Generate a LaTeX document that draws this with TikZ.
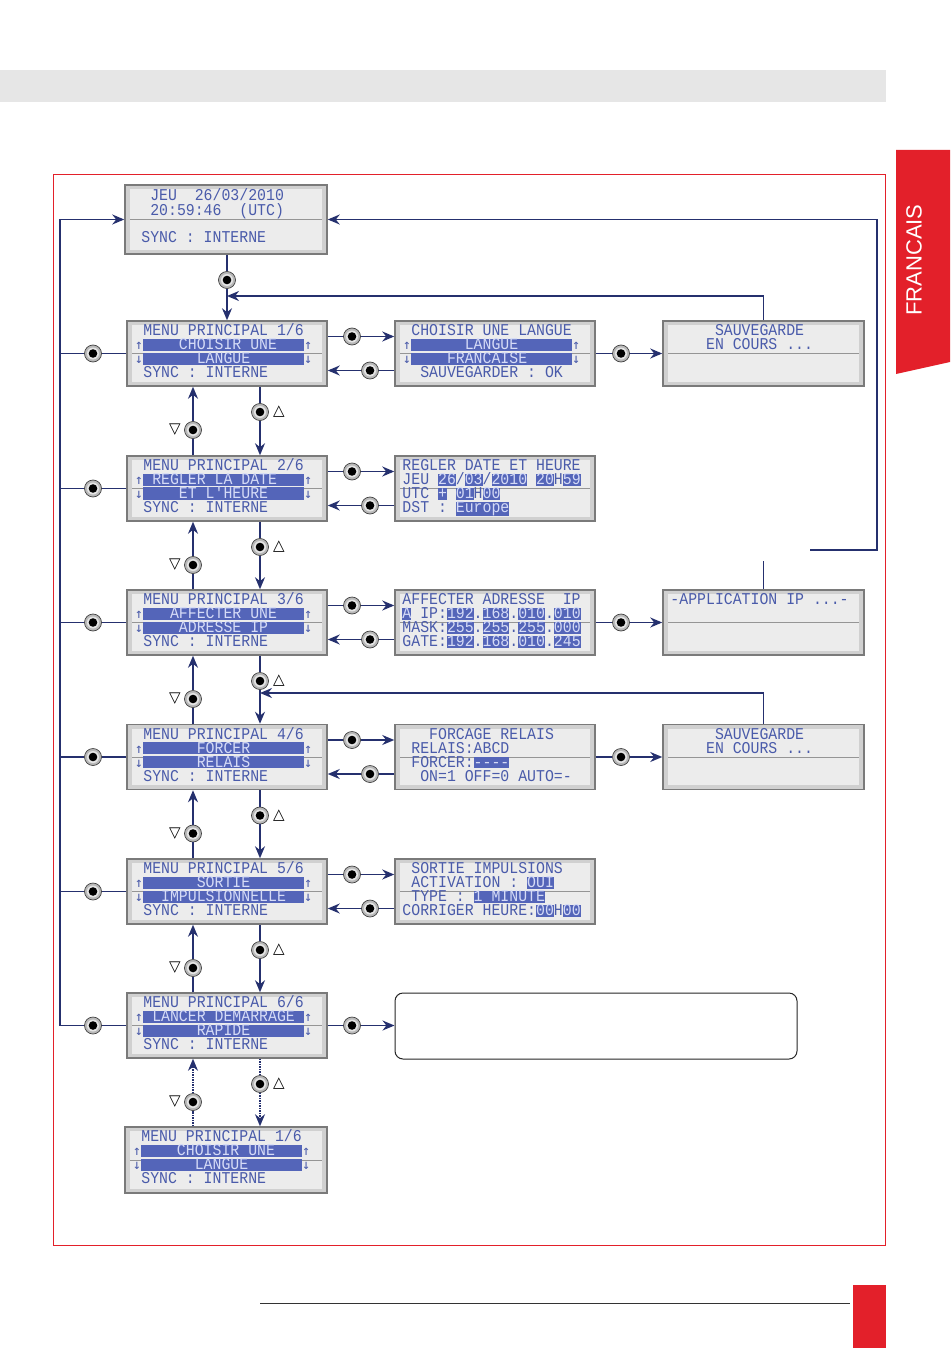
\documentclass[tikz,border=0pt]{standalone}
\usepackage{fontspec}
\usetikzlibrary{arrows.meta,calc}
\newfontfamily\lcdfont[FakeStretch=0.9]{Liberation Mono}
\newfontfamily\arrfont{DejaVu Sans Mono}
\newfontfamily\symfont{DejaVu Sans}
\newfontfamily\tabfont{Liberation Sans}
\definecolor{navy}{HTML}{25306E}
\definecolor{lcdblue}{HTML}{4A5BAA}
\definecolor{lcdbar}{HTML}{5465B9}
\definecolor{lcdlt}{HTML}{D5DBF7}
\definecolor{lcdframe}{HTML}{D0D0D0}
\definecolor{lcdedge}{HTML}{7A7A7A}
\definecolor{lcdpanel}{HTML}{ECECEC}
\definecolor{pagered}{HTML}{E3202A}
\definecolor{bargray}{HTML}{E6E6E6}
\newcommand\hb[1]{{\setlength{\fboxsep}{0pt}\colorbox{lcdbar}{\rule[-1pt]{0pt}{11.5pt}\color{lcdlt}#1}}}
\newcommand\ua{\makebox[8.9pt]{\arrfont\fontsize{13.5}{13.5}\selectfont ↑}}
\newcommand\da{\makebox[8.9pt]{\arrfont\fontsize{13.5}{13.5}\selectfont ↓}}
\newcommand\lcdbox[5]{%
  \node[lcd, minimum width=#4pt, minimum height=#5pt] (#1) at (#2,#3) {};
  \fill[lcdpanel] ([shift={(6,5)}]#1.north west) rectangle ([shift={(-6,-5)}]#1.south east);
  \draw[lcdedge!80, line width=1pt] ([shift={(6,0)}]#1.west) -- ([shift={(-6,0)}]#1.east);
}
\newcommand\lcdrow[4]{\node[lcdtxt] (#1-#2) at ([shift={(8,#3)}]#1.north west) {#4};}
\newcommand\lcdrows[5]{\lcdrow{#1}{a}{15.5}{#2}\lcdrow{#1}{b}{29.5}{#3}\lcdrow{#1}{c}{43.5}{#4}\lcdrow{#1}{d}{57.5}{#5}}
\tikzset{
  lcd/.style={rectangle, draw=lcdedge, line width=1.5pt, fill=lcdframe, inner sep=0},
  lcdtxt/.style={anchor=base west, inner sep=0, text height=10.5pt, text depth=1pt, text=lcdblue, font={\lcdfont\fontsize{16.5}{16.5}\selectfont}},
  conn/.style={draw=navy, line width=1.5pt},
  arr/.style={conn, -{Stealth[length=12pt,width=10pt]}},
  btn/.style={circle, minimum size=17pt, inner sep=0, fill=gray!55, draw=black!75, line width=0.7pt,
    path picture={\fill[white!80!gray] (path picture bounding box.center) circle (6pt);
                  \fill[black] (path picture bounding box.center) circle (4.3pt);}},
  tri/.style={inner sep=0, font={\symfont\fontsize{15}{15}\selectfont}},
}
\begin{document}
\begin{tikzpicture}[x=1pt,y=-1pt]
\useasboundingbox (0,0) rectangle (950,1348);
% page decoration
\fill[bargray] (0,70) rectangle (886,102);
\draw[pagered, line width=1pt] (53,175) rectangle (885,1245);
\fill[pagered] (896,150) -- (950,150) -- (950,362) -- (896,374) -- cycle;
\node[rotate=90, text=white, inner sep=0, font={\tabfont\fontsize{22}{22}\selectfont}] (tab) at (914,260) {FRANCAIS};
\draw[black!80, line width=0.7pt] (260,1303) -- (850,1303);
\fill[pagered] (853,1285) rectangle (886,1348);

% screens
\lcdbox{main}{226}{219.5}{202}{69}
\lcdrow{main}{a}{16.5}{~~JEU~~26/03/2010}
\lcdrow{main}{b}{31}{~~20:59:46~~(UTC)}
\lcdrow{main}{d}{58.5}{~SYNC~:~INTERNE}

\lcdbox{m1}{227}{353.5}{200}{65}
\lcdrows{m1}{~MENU~PRINCIPAL~1/6}{\ua\hb{~~~~CHOISIR~UNE~~~}\ua}{\da\hb{~~~~~~LANGUE~~~~~~}\da}{~SYNC~:~INTERNE}
\lcdbox{m2}{227}{488.5}{200}{65}
\lcdrows{m2}{~MENU~PRINCIPAL~2/6}{\ua\hb{~REGLER~LA~DATE~~~}\ua}{\da\hb{~~~~ET~L'HEURE~~~~}\da}{~SYNC~:~INTERNE}
\lcdbox{m3}{227}{622.5}{200}{65}
\lcdrows{m3}{~MENU~PRINCIPAL~3/6}{\ua\hb{~~~AFFECTER~UNE~~~}\ua}{\da\hb{~~~~ADRESSE~IP~~~~}\da}{~SYNC~:~INTERNE}
\lcdbox{m4}{227}{757}{200}{65}
\lcdrows{m4}{~MENU~PRINCIPAL~4/6}{\ua\hb{~~~~~~FORCER~~~~~~}\ua}{\da\hb{~~~~~~RELAIS~~~~~~}\da}{~SYNC~:~INTERNE}
\lcdbox{m5}{227}{891.5}{200}{65}
\lcdrows{m5}{~MENU~PRINCIPAL~5/6}{\ua\hb{~~~~~~SORTIE~~~~~~}\ua}{\da\hb{~~IMPULSIONNELLE~~}\da}{~SYNC~:~INTERNE}
\lcdbox{m6}{227}{1025.5}{200}{65}
\lcdrows{m6}{~MENU~PRINCIPAL~6/6}{\ua\hb{~LANCER~DEMARRAGE~}\ua}{\da\hb{~~~~~~RAPIDE~~~~~~}\da}{~SYNC~:~INTERNE}
\lcdbox{m7}{226}{1160}{202}{66}
\lcdrows{m7}{~MENU~PRINCIPAL~1/6}{\ua\hb{~~~~CHOISIR~UNE~~~}\ua}{\da\hb{~~~~~~LANGUE~~~~~~}\da}{~SYNC~:~INTERNE}

\lcdbox{c1}{495}{353.5}{200}{65}
\lcdrows{c1}{~CHOISIR~UNE~LANGUE}{\ua\hb{~~~~~~LANGUE~~~~~~}\ua}{\da\hb{~~~~FRANCAISE~~~~~}\da}{~~SAUVEGARDER~:~OK}
\lcdbox{c2}{495}{488.5}{200}{65}
\lcdrows{c2}{REGLER~DATE~ET~HEURE}{JEU~\hb{26}/\hb{03}/\hb{2010}~\hb{20}H\hb{59}}{UTC~\hb{+}~\hb{01}H\hb{00}}{DST~:~\hb{Europe}}
\lcdbox{c3}{495}{622.5}{200}{65}
\lcdrows{c3}{AFFECTER~ADRESSE~~IP}{\hb{A}~IP:\hb{192}.\hb{168}.\hb{010}.\hb{010}}{MASK:\hb{255}.\hb{255}.\hb{255}.\hb{000}}{GATE:\hb{192}.\hb{168}.\hb{010}.\hb{245}}
\lcdbox{c4}{495}{757}{200}{65}
\lcdrows{c4}{~~~FORCAGE~RELAIS}{~RELAIS:ABCD}{~FORCER:\hb{-\kern0pt-\kern0pt-\kern0pt-}}{~~ON=1~OFF=0~AUTO=-}
\lcdbox{c5}{495}{891.5}{200}{65}
\lcdrows{c5}{~SORTIE~IMPULSIONS}{~ACTIVATION~:~\hb{OUI}}{~TYPE~:~\hb{1~MINUTE}}{CORRIGER~HEURE:\hb{00}H\hb{00}}
\node[draw=black!85, line width=1pt, rounded corners=8pt, minimum width=402pt, minimum height=66pt, fill=white] (c6) at (596,1026) {};

\lcdbox{s1}{763.5}{353.5}{201}{65}
\lcdrow{s1}{a}{15.5}{~~~~~SAUVEGARDE}
\lcdrow{s1}{b}{29.5}{~~~~EN~COURS~...}
\lcdbox{ip}{763.5}{622.5}{201}{65}
\lcdrow{ip}{a}{15.5}{-APPLICATION~IP~...-}
\lcdbox{s2}{763.5}{757}{201}{65}
\lcdrow{s2}{a}{15.5}{~~~~~SAUVEGARDE}
\lcdrow{s2}{b}{29.5}{~~~~EN~COURS~...}

% main -> menu 1
\node[btn] (bm) at (227,280) {};
\draw[arr] (main.south -| bm) -- (bm) -- (m1.north);
\coordinate (j1) at (227,296);
\draw[arr] (s1.north) |- (j1);

% left return line
\coordinate (Ltop) at (60,219.5);
\foreach \i/\y in {1/353.5,2/488.5,3/622.5,4/757,5/891.5,6/1025.5}{
  \node[btn] (bl\i) at (93,\y) {};
  \coordinate (L\i) at (60,\y);
  \draw[conn] (m\i.west |- bl\i) -- (bl\i) -- (L\i);
}
\draw[arr] (L6) -- (Ltop) -- (main.west);

% menu <-> right screens
\foreach \i/\y in {1/353.5,2/488.5,3/622.5,4/757,5/891.5}{
  \node[btn] (bu\i) at (352,\y-17) {};
  \node[btn] (bd\i) at (370,\y+17) {};
  \draw[arr] (m\i.east |- bu\i) -- (bu\i) -- (c\i.west |- bu\i);
  \draw[arr] (c\i.west |- bd\i) -- (bd\i) -- (m\i.east |- bd\i);
}
\node[btn] (bu6) at (352,1025.5) {};
\draw[arr] (m6.east |- bu6) -- (bu6) -- (c6.west |- bu6);

% right screens -> third column
\node[btn] (bt1) at (621,353.5) {};
\draw[arr] (c1.east) -- (bt1) -- (s1.west);
\node[btn] (bt3) at (621,622.5) {};
\draw[arr] (c3.east) -- (bt3) -- (ip.west);
\node[btn] (bt4) at (621,757) {};
\draw[arr] (c4.east) -- (bt4) -- (s2.west);

% big loop back to main screen
\coordinate (rl) at (810,550);
\coordinate (rc) at (877,550);
\draw[arr] (rl) -- (rc) |- (main.east);
\coordinate (ap) at (763.5,561);
\draw[conn] (ap) -- (ip.north);
\coordinate (j2) at (260,693);
\draw[arr] (s2.north) |- (j2);

% vertical navigation between menus
\foreach \a/\b/\yb in {1/2/386,2/3/521,3/4/655,4/5/789.5,5/6/924}{
  \node[btn] (dn\a) at (260,\yb+26) {};
  \node[btn] (up\a) at (193,\yb+44) {};
  \node[tri] (td\a) at (279,\yb+26) {△};
  \node[tri] (tu\a) at (175,\yb+44) {▽};
  \draw[arr] (m\a.south -| dn\a) -- (dn\a) -- (m\b.north -| dn\a);
  \draw[arr] (m\b.north -| up\a) -- (up\a) -- (m\a.south -| up\a);
}
\node[btn] (dn6) at (260,1084) {};
\node[btn] (up6) at (193,1102) {};
\node[tri] (td6) at (279,1084) {△};
\node[tri] (tu6) at (175,1102) {▽};
\draw[arr, densely dotted] (m6.south -| dn6) -- (dn6) -- (m7.north -| dn6);
\draw[arr, densely dotted] (m7.north -| up6) -- (up6) -- (m6.south -| up6);
\end{tikzpicture}
\end{document}
